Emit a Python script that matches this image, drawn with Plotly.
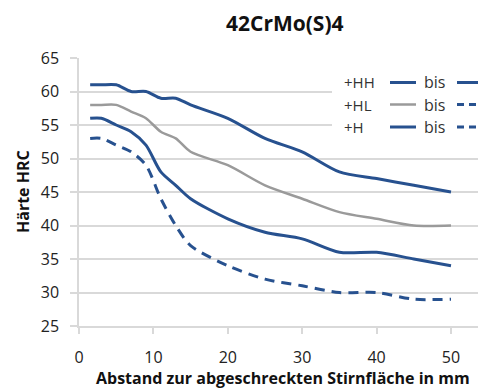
import plotly.graph_objects as go

# Data
distance_mm = [1.5, 3, 5, 7, 9, 11, 13, 15, 20, 25, 30, 35, 40, 45, 50]
hh_max = [61, 61, 61, 60, 60, 59, 59, 58, 56, 53, 51, 48, 47, 46, 45]
hl_max = [58, 58, 58, 57, 56, 54, 53, 51, 49, 46, 44, 42, 41, 40, 40]
hh_min = [56, 56, 55, 54, 52, 48, 46, 44, 41, 39, 38, 36, 36, 35, 34]
h_min = [53, 53, 52, 51, 49, 44, 40, 37, 34, 32, 31, 30, 30, 29, 29]

x_ticks = [0, 10, 20, 30, 40, 50]
y_ticks = [25, 30, 35, 40, 45, 50, 55, 60, 65]

legend_labels = ["+HH", "+HL", "+H"]

BLUE = "#27518f"
GREY = "#9a9a9a"
GRID = "#d9d9d9"
FONT = "Open Sans"

OFF = 8  # browser default body margin
W, H = 486 - OFF, 390 - OFF
# plot area in page pixels
PX0, PX1, PY0, PY1 = 79, 486, 58, 326


def px(x):
    return (x - PX0) / (PX1 - PX0)


def py(y):
    return (PY1 - y) / (PY1 - PY0)


fig = go.Figure()
series = [
    (hh_max, BLUE, 3, "solid"),
    (hl_max, GREY, 2.5, "solid"),
    (hh_min, BLUE, 3, "solid"),
    (h_min, BLUE, 3, "10px,7px"),
]
for vals, col, w, dash in series:
    fig.add_trace(go.Scatter(
        x=distance_mm, y=vals, mode="lines",
        line=dict(color=col, width=w, dash=dash, shape="spline", smoothing=0.8),
        showlegend=False, hoverinfo="skip",
    ))

shapes = []
annotations = []

# legend background
shapes.append(dict(type="rect", xref="paper", yref="paper",
                   x0=px(332), x1=px(486), y0=py(140), y1=py(68),
                   fillcolor="white", line=dict(width=0), layer="above"))

rows_y = [82.5, 104.5, 127]
left_style = [(BLUE, "solid"), (GREY, "solid"), (BLUE, "solid")]
right_style = [(BLUE, "solid"), (BLUE, "dash"), (BLUE, "dash")]
for lab, ry, ls, rs in zip(legend_labels, rows_y, left_style, right_style):
    annotations.append(dict(text=lab, xref="paper", yref="paper", x=px(342), y=py(ry),
                            xanchor="left", yanchor="middle", showarrow=False,
                            font=dict(family=FONT, size=15, color="#333333")))
    annotations.append(dict(text="bis", xref="paper", yref="paper", x=px(422), y=py(ry),
                            xanchor="left", yanchor="middle", showarrow=False,
                            font=dict(family=FONT, size=16, color="#333333")))
    shapes.append(dict(type="line", xref="paper", yref="paper",
                       x0=px(390), x1=px(416), y0=py(ry), y1=py(ry),
                       line=dict(color=ls[0], width=3 if ls[0] == BLUE else 2.5, dash=ls[1]),
                       layer="above"))
    shapes.append(dict(type="line", xref="paper", yref="paper",
                       x0=px(457), x1=px(484), y0=py(ry), y1=py(ry),
                       line=dict(color=rs[0], width=3, dash="7px,5px" if rs[1] == "dash" else "solid"),
                       layer="above"))

# title
annotations.append(dict(text="<b>42CrMo(S)4</b>", xref="paper", yref="paper",
                        x=px(285), y=py(23), xanchor="center", yanchor="middle",
                        showarrow=False, font=dict(family=FONT, size=21, color="#111111")))
# axis titles
annotations.append(dict(text="<b>Härte HRC</b>", xref="paper", yref="paper",
                        x=px(23), y=py(192), xanchor="center", yanchor="middle",
                        textangle=-90, showarrow=False,
                        font=dict(family=FONT, size=16, color="#111111")))
annotations.append(dict(text="<b>Abstand zur abgeschreckten Stirnfläche in mm</b>",
                        xref="paper", yref="paper", x=px(283), y=py(378),
                        xanchor="center", yanchor="middle", showarrow=False,
                        font=dict(family=FONT, size=16, color="#111111")))

fig.update_layout(
    width=W, height=H,
    margin=dict(l=PX0 - OFF, r=486 - PX1, t=PY0 - OFF, b=390 - PY1, pad=0),
    paper_bgcolor="white", plot_bgcolor="white",
    shapes=shapes, annotations=annotations,
    xaxis=dict(range=[0, (PX1 - PX0) / 7.44], tickvals=x_ticks,
               showgrid=False, zeroline=False, showline=True, linecolor=GRID, linewidth=2,
               ticks="outside", ticklen=6, tickcolor=GRID, tickwidth=1.5,
               ticklabelstandoff=10,
               tickfont=dict(family=FONT, size=16, color="#222222")),
    yaxis=dict(range=[25, 65], tickvals=y_ticks,
               showgrid=True, gridcolor=GRID, gridwidth=2, zeroline=False,
               showline=True, linecolor=GRID, linewidth=1.5,
               ticks="outside", ticklen=7, tickcolor=GRID, tickwidth=2,
               ticklabelstandoff=8,
               tickfont=dict(family=FONT, size=16, color="#222222")),
)

fig.write_html("out.html")
